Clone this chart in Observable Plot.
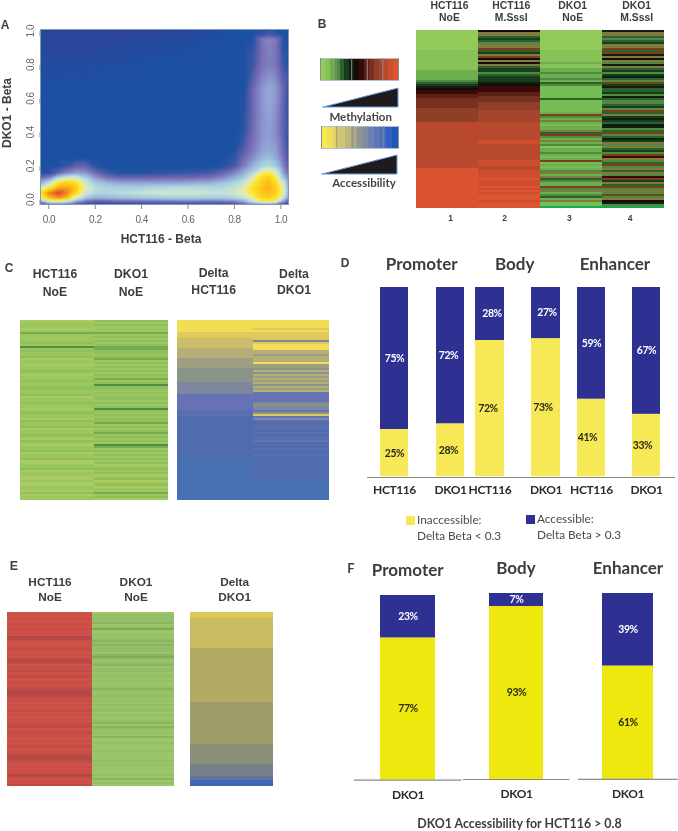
<!DOCTYPE html>
<html><head><meta charset="utf-8">
<style>
html,body{margin:0;padding:0;background:#fff}
#page{position:relative;width:678px;height:831px;overflow:hidden;filter:blur(.4px)}
.slot{position:absolute;line-height:0}
.slot svg{overflow:visible;background:transparent;display:block}
.lab{position:absolute;transform:translate(-50%,-50%);white-space:nowrap;line-height:1}
</style>
<script src="https://cdn.jsdelivr.net/npm/d3@7"></script>
<script src="https://cdn.jsdelivr.net/npm/@observablehq/plot@0.6"></script>
</head><body><div id="page"></div>
<script>
// ---- Panel A: density on an uneven grid
const betaX=[-.04,0,.04,.08,.12,.16,.2,.25,.3,.4,.5,.6,.7,.75,.8,.84,.88,.92,.95,.98,1.01,1.04];
const betaY=[1.03,.98,.95,.9,.8,.65,.5,.4,.3,.25,.2,.16,.13,.1,.07,.04,.01,-.01,-.03,-.06];
const densityRows=[
[-.6,-.8,-.8,-.8,-.8,-.8,-.8,-.8,-.8,-.8,-.7,-.6,-.4,-.2,0,0,0,0,0,0,0,0],
[-.5,-.8,-.8,-.8,-.8,-.8,-.8,-.8,-.8,-.7,-.6,-.5,-.3,-.2,0,0,0,.2,.5,.2,0,0],
[-.4,-.7,-.8,-.8,-.8,-.8,-.8,-.8,-.7,-.6,-.5,-.3,-.2,-.1,0,0,.1,1.3,1.6,1.3,.1,0],
[-.3,-.5,-.7,-.7,-.7,-.7,-.6,-.5,-.5,-.4,-.3,-.2,-.1,0,0,0,.2,1.2,1.5,1.2,.2,0],
[-.1,-.3,-.4,-.4,-.4,-.3,-.3,-.2,-.2,-.1,0,0,0,0,0,0,.4,1.2,1.4,1.2,.4,0],
[0,0,0,0,0,0,0,0,0,0,0,0,0,0,0,0,1,1.9,2.3,1.9,1,0],
[0,0,0,0,0,0,0,0,0,0,0,0,0,0,0,.1,1,1.8,2.1,1.7,.8,0],
[0,0,0,0,0,0,0,0,0,0,0,0,0,0,0,.2,1.1,1.8,2,1.6,.8,0],
[0,0,0,0,0,0,0,0,0,0,0,0,0,0,0,.6,1.3,2,2.2,1.9,1,0],
[0,0,0,0,0,0,0,0,0,0,0,0,0,0,.2,1,1.7,2.5,2.7,2.2,1.2,.1],
[0,0,0,.3,.8,.8,.2,0,0,0,0,0,0,.1,.5,1.4,2.4,3.3,3.5,2.9,1.5,.2],
[0,.1,.7,1.5,2,1.8,1,.4,.1,.1,.2,.3,.5,.9,1.5,2.3,3.5,5.5,5.8,4.6,2.1,.5],
[.8,1.5,3.5,4.5,4.5,3.2,2,1.2,.9,.9,1,1,1.2,1.6,2.3,3.1,4.8,6.5,6.8,5.6,3,.9],
[2,3.8,6.3,6.8,6.3,4.4,3.1,2.5,2.2,2.1,2.1,2.2,2.4,2.8,3.4,4.1,5.8,6.8,7.1,6.4,4.5,1.2],
[4.5,6,7.5,7.6,6.8,4.8,3.6,3.3,3.2,3.3,3.6,3.7,3.5,3.6,4,4.8,6.3,7,7.3,6.7,5,1.4],
[6,8,9,8,6.3,4.3,3.5,3.4,3.6,4,4.3,4.3,4,4,4.3,5,6.1,6.9,7.1,6.6,5,1.4],
[5,7,7.8,7,4.5,2.8,2.3,2.4,2.6,2.8,3,3.1,3,3,3.3,3.8,5.3,6.5,6.7,6.2,4,1],
[2,4.5,5,4,2,1,.7,.7,.9,1,1.1,1.2,1.1,1.2,1.4,2.2,4,5.5,5.8,5,2,.5],
[0,.3,.6,.3,0,0,0,0,0,0,0,0,0,0,0,.2,.6,1,1.1,.8,.2,0],
[0,0,0,0,0,0,0,0,0,0,0,0,0,0,0,0,0,0,0,0,0,0]];
const densityLevels=[-1,0,1,2,3,4,5,6,7,8,9];
const densityColors=["#2f4298","#1c50a2","#7268b0","#8f9fd4","#a3cbe0","#c5e3d8","#e8eba8","#fde72e","#fcc418","#f08a20","#e5402a"];
const betaTicks=[0,.2,.4,.6,.8,1];

// ---- Panel B: one character per row, each a methylation level
const methylationKeys="0123456789abcdefghij".split("");
const methylationColors=["#93cb5b","#86c257","#6fae4f","#4f8b3f","#2f5f2c","#163d1c","#0e1f10","#1a0a05","#3a0a08","#5f1f14","#75301f","#8f3f28","#a5452c","#b8482e","#cc4e2f","#dc5330","#1aa850","#7f7a3e","#7c3f1c","#76bd55"];
const hct116NoE="0000000000"+"1111111111"+"22222"+"345"+"67"+"88"+"99aa"+"aaa"+"bbbbbbb"+"ddddddddddddddddddddddd"+"ffffffffffffffffffff";
const hct116SssI="7hh4543hhi45hi7h7h45"+"5345556"+"78"+"88"+"99aa"+"abbbbcccc"+"ccdddddddd"+"deeddddd"+"dddeeedd"+"eeeefeeefe"+"fefffefff";
const dko1NoE="0000000000"+"1111112112"+"23223243"+"jjjjjj4jjjjjj2"+"i"+"32h2j22h4"+"i32h2312232j2"+"i"+"j2j23h2h4322i3h2342h"+"jj"+"g";
const dko1SssI="6hh4345hhi"+"4i6h7h36h4"+"535643i564"+"4536433453"+"i4h5654663"+"4i3465h3h4"+"53i8h34i3h"+"4h38i5h4i3"+"h3i3h763g";
const accessibilityLegendColors=["#fbe94a","#f3e05a","#e0d268","#cfc570","#bdb77e","#a9a885","#8f968e","#7f8ca5","#6e80b5","#5d77ba","#4a6fbd","#2f62bf","#1f58bc"];
const legendTicks=[0,.2,.4,.6,.8,1];

// ---- Panel C
const greenKeys="01234".split("");
const greenColors=["#aacb62","#9cc75f","#8fc05b","#76ab52","#4f8d48"];
const cHct116="0111013111"+"1214121120"+"1101121011"+"2112211201"+"1211012110"+"2112011210"+"2101120112"+"0011201100"+"1001102011";
const cDko1="2121113121"+"2123322123"+"1212121213"+"1242212122"+"1212421212"+"2312123121"+"2143121212"+"1201212012"+"0120113120";
const deltaKeys="0123456789a".split("");
const deltaColors=["#f3dd55","#dfca5c","#cdbd6a","#b5ae78","#9e9f80","#8b9488","#7d88a0","#6772b5","#5a6fb0","#4e6cae","#4670b2"];
const cDeltaHct116="000000"+"111"+"22222"+"33333"+"44444"+"5555555"+"666666"+"77777777"+"888999999999999999999999"+"aaaaaaaaaaaaaaaaaaaaa";
const cDeltaDko1="0000101111"+"6100033433"+"3044535343"+"4353437777"+"7656675176"+"8988898988"+"7989899899"+"9999999999"+"aaaaaaaaaa";

// ---- Panel D and F percentages
const dSamples=["HCT116","DKO1","HCT116","DKO1","HCT116","DKO1"];
const dAccessible=[75,72,28,27,59,67];
const dInaccessible=[25,28,72,73,41,33];
const fSamples=["DKO1","DKO1","DKO1"];
const fAccessible=[23,7,39];
const fInaccessible=[77,93,61];

// ---- Panel E
const redKeys="0123".split("");
const redColors=["#cf5148","#c94e46","#bf4b45","#b34846"];
const eHct116="0101001011"+"1033100121"+"0102320112"+"0120110123"+"3321101012"+"0101012201"+"2100101201"+"1233210101"+"1320102";
const eGreenKeys="0123".split("");
const eGreenColors=["#9cc468","#94bf66","#8ab463","#80a960"];
const eDko1="0111120130"+"0101212111"+"0231012011"+"0110100121"+"0110101011"+"0100120210"+"1020010001"+"0000101000"+"0102010";
const eDeltaKeys="01234567".split("");
const eDeltaColors=["#dfc85a","#c9bc62","#b0aa65","#9f9c6c","#8a8f78","#75808a","#6075a0","#3f66b8"];
const eDelta="000"+"111111111111111"+"222222222222222222222222222"+"333333333333333333333"+"4444444444"+"555555"+"66"+"777";

// ---- helpers
const page=document.getElementById("page");
function place(node,left,top){const d=document.createElement("div");d.className="slot";d.style.left=left+"px";d.style.top=top+"px";d.appendChild(node);page.appendChild(d);}
function label(text,x,y,o={}){const d=document.createElement("div");d.className="lab";d.textContent=text;d.style.left=x+"px";d.style.top=y+"px";
 d.style.fontFamily=o.font||"'Liberation Sans'";d.style.fontSize=(o.size||12)+"px";d.style.fontWeight=o.weight||700;d.style.color=o.color||"#3d3d3d";
 if(o.rotate)d.style.transform="translate(-50%,-50%) rotate(-90deg)";
 if(o.left)d.style.transform="translate(0,-50%)";
 page.appendChild(d);}
const lato="Lato";

function heat(columns,keys,colors,left,top,width,height){
 const names=columns.map((_,i)=>"c"+i);
 const n=columns[0].length;
 const cells=columns.flatMap((s,i)=>Array.from(s,(k,r)=>({col:names[i],row:r,key:k})));
 place(Plot.plot({width,height,margin:0,
  x:{axis:null,domain:names,padding:0},
  y:{axis:null,domain:d3.range(n),padding:0},
  color:{type:"ordinal",domain:keys,range:colors},
  marks:[Plot.cell(cells,{x:"col",y:"row",fill:"key",shapeRendering:"crispEdges"})]}),left,top);
}
function stackBar(sample,acc,inacc,yellow,left,top,width,barH,o={}){
 const rows=[{s:sample,c:"Inaccessible",p:inacc},{s:sample,c:"Accessible",p:acc}];
 const pct={x:"s",text:d=>d.p+"%",fontSize:o.pctSize||10.5,fontWeight:700};
 place(Plot.plot({width,height:barH+o.bottom,marginLeft:0,marginRight:0,marginTop:0,marginBottom:o.bottom,
  style:{fontFamily:lato,fontSize:"12px",letterSpacing:"-.4px",fontWeight:700,color:"#2b2b2b"},
  x:{domain:[sample],padding:o.padding||0,label:null},
  y:{domain:[0,100],axis:null},
  color:{type:"ordinal",domain:["Inaccessible","Accessible"],range:[yellow,"#2e3192"]},
  marks:[
   Plot.barY(rows,{x:"s",y:"p",fill:"c"}),
   Plot.text(rows.slice(0,1),{...pct,y:d=>d.p/2,dx:o.dy||0,fill:"#2a2a10"}),
   Plot.text(rows.slice(1),{...pct,y:d=>inacc+d.p/2,dx:o.da||0,fill:"#ffffff"}),
   ...(o.rule?[Plot.ruleY([0],{stroke:"#8a8a8a",strokeWidth:1.2})]:[]),
   Plot.axisX({tickSize:0,tickPadding:o.tickPad,label:null})
  ]}),left,top);
}
function legendBar(colors,left,top,width){
 const n=colors.length;
 const steps=colors.map((c,i)=>({a:i/n,b:(i+1)/n,c}));
 place(Plot.plot({width,height:30,marginLeft:0,marginRight:0,marginTop:0,marginBottom:8,
  x:{domain:[0,1],axis:null},y:{domain:[0,1],axis:null},
  color:{type:"identity"},
  marks:[Plot.rect(steps,{x1:"a",x2:"b",y1:0,y2:1,fill:"c",shapeRendering:"crispEdges"}),
   Plot.frame({stroke:"#a9c0d8"}),
   Plot.tickX(legendTicks,{x:d=>d,y1:-.32,y2:0,stroke:"#8c8c8c",strokeWidth:1})]
 }),left,top);
}
function wedge(left,top,width,height){
 place(Plot.plot({width,height,margin:0,x:{domain:[0,1],axis:null},y:{domain:[0,1],axis:null},
  marks:[Plot.areaY(legendTicks,{x:d=>d,y:d=>d,fill:"#1f1a1c",stroke:"#6aa0d8",strokeWidth:1})]}),left,top);
}

// ---- Panel A
const densityPts=betaY.flatMap((y,j)=>betaX.map((x,i)=>({x,y,v:densityRows[j][i]})));
place(Plot.plot({width:300,height:236,marginLeft:40,marginRight:12,marginTop:29,marginBottom:32,
 style:{fontFamily:"'Liberation Sans'",fontSize:"10px",letterSpacing:"-.5px",color:"#666"},
 x:{domain:[-.036,1.033],label:null},
 y:{domain:[-.028,1.01],label:null},
 color:{type:"linear",domain:densityLevels,range:densityColors,clamp:true},
 marks:[
  Plot.raster(densityPts,{x:"x",y:"y",fill:"v",interpolate:"barycentric",pixelSize:1}),
  Plot.frame({stroke:"#8299b5"}),
  Plot.axisX({ticks:betaTicks,tickFormat:d3.format(".1f"),tickSize:5,tickPadding:6,label:null,stroke:"#888"}),
  Plot.axisY({ticks:betaTicks,tickFormat:d3.format(".1f"),tickSize:5,tickPadding:5,textAnchor:"middle",rotate:-90,label:null,stroke:"#888"})
 ]}),0,0);
label("A",5,25,{size:12});
label("DKO1 - Beta",7,113,{size:12,rotate:true});
label("HCT116 - Beta",161,239,{size:12});

// ---- Panel B
heat([hct116NoE,hct116SssI,dko1NoE,dko1SssI],methylationKeys,methylationColors,415,29,250,179);
label("B",322,24,{size:12});
[["HCT116","NoE",449.5],["HCT116","M.SssI",511.3],["DKO1","NoE",572.7],["DKO1","M.SssI",636.7]].forEach(([a,b,x])=>{label(a,x,5.5,{size:10.4});label(b,x,18,{size:10.4});});
[["1",450.7],["2",504.7],["3",569.3],["4",630]].forEach(([t,x])=>label(t,x,218,{size:8.5}));
legendBar(methylationColors.slice(0,16),320,58,78);
wedge(323,88,75,19);
label("Methylation",360.7,117,{font:lato,size:11.5,color:"#444"});
legendBar(accessibilityLegendColors,321,126,77);
wedge(322,155,75,19);
label("Accessibility",364,183,{font:lato,size:11.5,color:"#444"});

// ---- Panel C
heat([cHct116,cDko1],greenKeys,greenColors,19,320,149,180);
heat([cDeltaHct116,cDeltaDko1],deltaKeys,deltaColors,177,320,152,180);
label("C",9,268,{size:12});
[["HCT116","NoE",55,274,292],["DKO1","NoE",131,274,292],["Delta","HCT116",213.7,273,290],["Delta","DKO1",294,274,290]].forEach(([a,b,x,y1,y2])=>{label(a,x,y1,{size:12.2});label(b,x,y2,{size:12.2});});

// ---- Panel D
const dLeft=[380,436,474.5,531,577,632];
const dWidth=[28.5,28.5,29.3,29.5,28.5,28];
const dNudge=[[0,0],[-2,-2],[-2,2],[-3,1],[-4,0],[-4,0]];
dSamples.forEach((s,i)=>stackBar(s,dAccessible[i],dInaccessible[i],"#f7e858",dLeft[i],286.7,dWidth[i],189.3,{bottom:26,tickPad:9,dy:dNudge[i][0],da:dNudge[i][1]}));
place(Plot.plot({width:308,height:2,margin:0,x:{axis:null,domain:[0,1]},y:{axis:null,domain:[0,1]},marks:[Plot.ruleY([0],{stroke:"#8a8a8a",strokeWidth:1.2})]}),367,474.5);
label("D",345,263,{size:12});
[["Promoter",421.7],["Body",514.7],["Enhancer",615]].forEach(([t,x])=>label(t,x,263,{font:lato,size:17}));
function swatch(color,left,top,size){place(Plot.plot({width:size,height:size,margin:0,x:{axis:null,domain:[0,1]},y:{axis:null,domain:[0,1]},marks:[Plot.frame({fill:color,stroke:color})]}),left,top);}
swatch("#f7e858",406,516,8);
swatch("#2e3192",526,515,8);
const legendText={font:lato,size:11.8,weight:400,left:true,color:"#4a4a4a"};
label("Inaccessible:",417,520,legendText);
label("Delta Beta < 0.3",417,536,legendText);
label("Accessible:",537,519,legendText);
label("Delta Beta > 0.3",537,535,legendText);

// ---- Panel E
heat([eHct116],redKeys,redColors,7,612,85,174);
heat([eDko1],eGreenKeys,eGreenColors,92,612,82,174);
heat([eDelta],eDeltaKeys,eDeltaColors,189.5,612,83,173.5);
label("E",14,566,{size:12.5});
[["HCT116","NoE",50],["DKO1","NoE",136],["Delta","DKO1",234.7]].forEach(([a,b,x])=>{label(a,x,582.7,{size:11.8});label(b,x,598,{size:11.8});});

// ---- Panel F
const fLeft=[354.3,463,578.3];
const fWidth=[107.4,106.3,99.7];
const fTop=[594.7,593.3,593.3];
fSamples.forEach((s,i)=>stackBar(s,fAccessible[i],fInaccessible[i],"#eee80e",fLeft[i],fTop[i],fWidth[i],779.3-fTop[i],{bottom:26,tickPad:10,padding:.32,rule:true,pctSize:10.5}));
label("F",351,568,{font:lato,size:13});
[["Promoter",407.7,569],["Body",516,567],["Enhancer",628,567]].forEach(([t,x,y])=>label(t,x,y,{font:lato,size:17}));
label("DKO1 Accessibility for HCT116 > 0.8",519.5,824,{font:lato,size:12.4});
</script></body></html>
